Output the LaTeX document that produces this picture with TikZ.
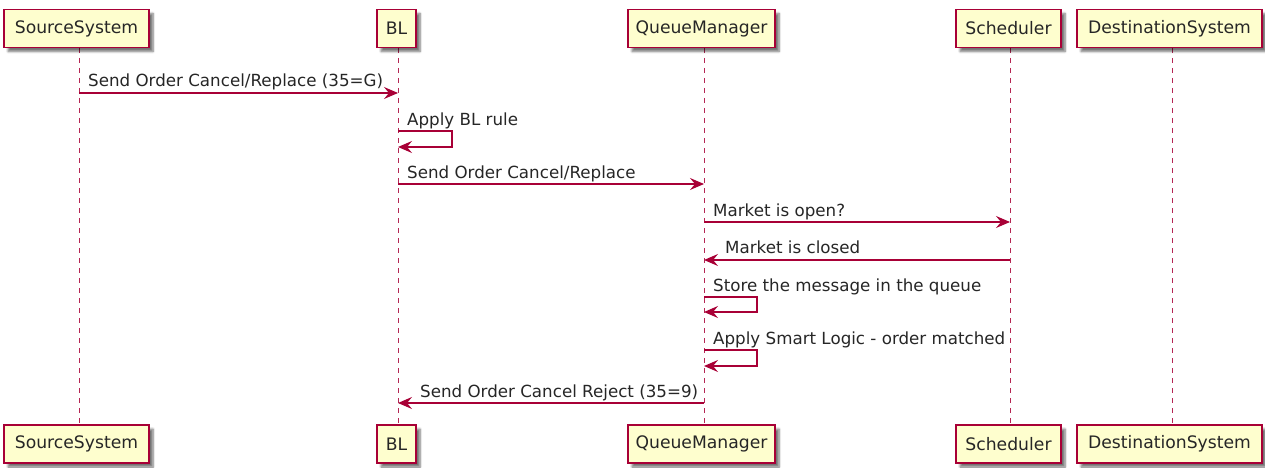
\documentclass[tikz,border=0pt]{standalone}
\usepackage{fontspec}
\setmainfont{DejaVu Sans}
\usetikzlibrary{arrows.meta,shadows.blur}

\definecolor{umlred}{HTML}{A80036}
\definecolor{umlfill}{HTML}{FEFECE}

\tikzset{
  part/.style={draw=umlred, line width=1.7pt, fill=umlfill, minimum height=38pt,
    inner sep=0pt, font=\fontsize{17.2}{20}\selectfont, text=black!85,
    blur shadow={shadow xshift=4pt, shadow yshift=-4pt, shadow blur steps=6, shadow opacity=55}},
  life/.style={umlred!85, line width=1pt, dash pattern=on 5pt off 5pt},
  msg/.style={umlred, line width=1.3pt, -{Stealth[length=14pt, width=12pt, inset=5pt]}},
  lbl/.style={anchor=base west, inner sep=0pt, font=\fontsize{16.7}{20}\selectfont, text=black!85}
}

\begin{document}
\begin{tikzpicture}[x=1pt, y=-1pt]
  \useasboundingbox (0,0) rectangle (1265,468);

  % lifeline anchors
  \coordinate (lSS) at (79,48);
  \coordinate (lBL) at (398,48);
  \coordinate (lQM) at (704,48);
  \coordinate (lSC) at (1010,48);
  \coordinate (lDS) at (1172,48);

  % lifelines
  \foreach \p in {SS,BL,QM,SC,DS}
    \draw[life] (l\p) -- (l\p |- 0,425);

  % participants, top and bottom
  \node[part, minimum width=145pt] (ssT) at (76.5,28.5) {SourceSystem};
  \node[part, minimum width=39pt]  (blT) at (396.5,28.5) {BL};
  \node[part, minimum width=147pt] (qmT) at (701.5,28.5) {QueueManager};
  \node[part, minimum width=105pt] (scT) at (1008.5,28.5) {Scheduler};
  \node[part, minimum width=185pt] (dsT) at (1169.5,28.5) {DestinationSystem};

  \node[part, minimum width=145pt] (ssB) at (76.5,444) {SourceSystem};
  \node[part, minimum width=39pt]  (blB) at (396.5,444) {BL};
  \node[part, minimum width=147pt] (qmB) at (701.5,444) {QueueManager};
  \node[part, minimum width=105pt] (scB) at (1008.5,444) {Scheduler};
  \node[part, minimum width=185pt] (dsB) at (1169.5,444) {DestinationSystem};

  % 1
  \draw[msg] (lSS |- 0,93) -- (lBL |- 0,93);
  \node[lbl] (t1) at (88,87) {Send Order Cancel/Replace (35=G)};
  % 2 self call on BL
  \draw[msg] (lBL |- 0,131) -- (452,131) -- (452,147) -- (lBL |- 0,147);
  \node[lbl] (t2) at (407,125) {Apply BL rule};
  % 3
  \draw[msg] (lBL |- 0,184) -- (lQM |- 0,184);
  \node[lbl] (t3) at (407,178) {Send Order Cancel/Replace};
  % 4
  \draw[msg] (lQM |- 0,222) -- (lSC |- 0,222);
  \node[lbl] (t4) at (713,216) {Market is open?};
  % 5
  \draw[msg] (lSC |- 0,260) -- (lQM |- 0,260);
  \node[lbl] (t5) at (725,253) {Market is closed};
  % 6 self call on QueueManager
  \draw[msg] (lQM |- 0,297) -- (757,297) -- (757,312) -- (lQM |- 0,312);
  \node[lbl] (t6) at (713,291) {Store the message in the queue};
  % 7 self call on QueueManager
  \draw[msg] (lQM |- 0,350) -- (757,350) -- (757,366) -- (lQM |- 0,366);
  \node[lbl] (t7) at (713,344) {Apply Smart Logic - order matched};
  % 8
  \draw[msg] (lQM |- 0,403) -- (lBL |- 0,403);
  \node[lbl] (t8) at (420,397) {Send Order Cancel Reject (35=9)};
\end{tikzpicture}
\end{document}
